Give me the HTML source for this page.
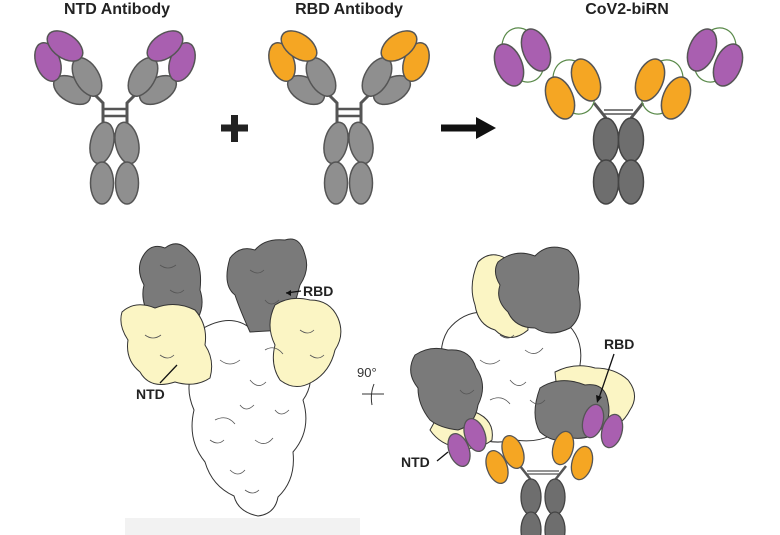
<!DOCTYPE html>
<html><head><meta charset="utf-8"><style>
html,body{margin:0;padding:0;background:#fff;}
svg{display:block;font-family:"Liberation Sans",Arial,sans-serif;}
</style></head><body>
<svg width="780" height="535" viewBox="0 0 780 535" xmlns="http://www.w3.org/2000/svg">
<defs>
<g id="ab">
  <path d="M-20,0 L-12,8 L-12,30 M20,0 L12,8 L12,30" fill="none" stroke="#555" stroke-width="3"/>
  <path d="M-12,14 H12 M-12,21 H12" stroke="#555" stroke-width="2.5"/>
  <g stroke="#555" stroke-width="1.5" fill="#8f8f8f">
    <ellipse cx="-13" cy="48" rx="11.5" ry="21" transform="rotate(12 -13 48)"/>
    <ellipse cx="12" cy="48" rx="11.5" ry="21" transform="rotate(-12 12 48)"/>
    <ellipse cx="-13" cy="88" rx="11.5" ry="21"/>
    <ellipse cx="12" cy="88" rx="11.5" ry="21"/>
    <ellipse cx="-43" cy="-5" rx="12" ry="20" transform="rotate(-60 -43 -5)"/>
    <ellipse cx="-28" cy="-18" rx="12" ry="21" transform="rotate(-30 -28 -18)"/>
    <ellipse cx="43" cy="-5" rx="12" ry="20" transform="rotate(60 43 -5)"/>
    <ellipse cx="28" cy="-18" rx="12" ry="21" transform="rotate(30 28 -18)"/>
  </g>
</g>
</defs>

<g font-weight="bold" font-size="16" fill="#222" text-anchor="middle">
<text x="117" y="14">NTD Antibody</text>
<text x="349" y="14">RBD Antibody</text>
<text x="627" y="14">CoV2-biRN</text>
</g>

<g transform="translate(115,95)">
  <use href="#ab"/>
  <g stroke="#555" stroke-width="1.5" fill="#a95fb0">
    <ellipse cx="-67" cy="-33" rx="12" ry="20" transform="rotate(-20 -67 -33)"/>
    <ellipse cx="-50" cy="-49" rx="12" ry="20" transform="rotate(-55 -50 -49)"/>
    <ellipse cx="67" cy="-33" rx="12" ry="20" transform="rotate(20 67 -33)"/>
    <ellipse cx="50" cy="-49" rx="12" ry="20" transform="rotate(55 50 -49)"/>
  </g>
</g>
<g transform="translate(349,95)">
  <use href="#ab"/>
  <g stroke="#555" stroke-width="1.5" fill="#f5a623">
    <ellipse cx="-67" cy="-33" rx="12" ry="20" transform="rotate(-20 -67 -33)"/>
    <ellipse cx="-50" cy="-49" rx="12" ry="20" transform="rotate(-55 -50 -49)"/>
    <ellipse cx="67" cy="-33" rx="12" ry="20" transform="rotate(20 67 -33)"/>
    <ellipse cx="50" cy="-49" rx="12" ry="20" transform="rotate(55 50 -49)"/>
  </g>
</g>

<path d="M221,128 H248 M234.5,115 V142" stroke="#222" stroke-width="7"/>
<path d="M441,128 H478" stroke="#111" stroke-width="7"/>
<path d="M476,117 L496,128 L476,139 Z" fill="#111"/>

<!-- CoV2-biRN -->
<g>
  <path d="M606,118 L594,103 M631,118 L643,103" stroke="#555" stroke-width="3"/>
  <path d="M604,110 H633 M604,114 H633" stroke="#555" stroke-width="1.5"/>
  <g fill="none" stroke="#5a8a4a" stroke-width="1.2">
    <ellipse cx="574" cy="87" rx="20" ry="28" transform="rotate(-22 574 87)"/>
    <ellipse cx="523" cy="55" rx="20" ry="28" transform="rotate(-22 523 55)"/>
    <ellipse cx="662" cy="87" rx="20" ry="28" transform="rotate(22 662 87)"/>
    <ellipse cx="715" cy="55" rx="20" ry="28" transform="rotate(22 715 55)"/>
  </g>
  <g stroke="#444" stroke-width="1.5" fill="#6e6e6e">
    <ellipse cx="606" cy="140" rx="12.5" ry="22"/>
    <ellipse cx="631" cy="140" rx="12.5" ry="22"/>
    <ellipse cx="606" cy="182" rx="12.5" ry="22"/>
    <ellipse cx="631" cy="182" rx="12.5" ry="22"/>
  </g>
  <g stroke="#555" stroke-width="1.5" fill="#f5a623">
    <ellipse cx="586" cy="80" rx="13" ry="22" transform="rotate(-22 586 80)"/>
    <ellipse cx="560" cy="98" rx="13" ry="22" transform="rotate(-22 560 98)"/>
    <ellipse cx="650" cy="80" rx="13" ry="22" transform="rotate(22 650 80)"/>
    <ellipse cx="676" cy="98" rx="13" ry="22" transform="rotate(22 676 98)"/>
  </g>
  <g stroke="#555" stroke-width="1.5" fill="#a95fb0">
    <ellipse cx="536" cy="50" rx="13" ry="22" transform="rotate(-22 536 50)"/>
    <ellipse cx="509" cy="65" rx="13" ry="22" transform="rotate(-22 509 65)"/>
    <ellipse cx="702" cy="50" rx="13" ry="22" transform="rotate(22 702 50)"/>
    <ellipse cx="728" cy="65" rx="13" ry="22" transform="rotate(22 728 65)"/>
  </g>
</g>

<!-- bottom-left spike side view -->
<rect x="125" y="518" width="235" height="17" fill="#f2f2f2"/>
<g stroke="#333" stroke-width="1" stroke-linejoin="round">
  <path d="M200,330 Q230,312 250,328 Q285,315 305,340 Q318,380 303,400 Q312,430 293,452 Q296,480 278,497 Q275,514 258,516 Q238,512 234,496 Q212,486 205,462 Q187,440 194,410 Q183,385 196,365 Q190,345 200,330 Z" fill="#fff"/>
  <path d="M142,258 Q150,242 165,248 Q178,238 190,252 Q203,262 200,290 Q205,305 198,318 L150,318 Q140,300 144,285 Q136,270 142,258 Z" fill="#7a7a7a"/>
  <path d="M122,312 Q135,300 155,308 Q175,300 195,310 Q208,325 205,345 Q215,360 210,378 Q195,388 175,382 Q150,390 140,372 Q125,360 128,340 Q118,325 122,312 Z" fill="#fbf5c4"/>
  <path d="M230,258 Q240,245 255,250 Q265,238 285,240 Q300,235 305,255 Q310,270 300,285 Q295,305 285,330 L250,332 Q240,310 235,295 Q222,285 230,258 Z" fill="#7a7a7a"/>
  <path d="M275,305 Q290,295 310,300 Q330,300 338,318 Q345,335 335,350 Q330,372 312,382 Q295,392 280,380 Q270,365 275,345 Q265,325 275,305 Z" fill="#fbf5c4"/>
</g>
<g stroke="#555" stroke-width="0.8" fill="none">
  <path d="M220,360 q10,8 20,0 M250,380 q8,10 16,2 M215,420 q12,-6 20,4 M255,440 q10,8 18,-2 M230,470 q8,8 15,0 M265,350 q10,-6 18,4 M240,405 q6,8 14,0 M210,440 q8,6 14,0 M275,410 q6,8 14,0 M245,490 q8,6 14,0"/>
  <path d="M160,265 q8,6 16,0 M250,270 q8,6 14,0 M145,335 q8,6 16,0 M300,330 q8,6 14,0 M170,290 q8,6 14,0 M265,300 q6,8 14,0 M160,355 q8,6 14,0 M310,355 q8,6 14,0"/>
</g>
<g font-weight="bold" font-size="14" fill="#222">
<text x="303" y="296">RBD</text>
<text x="136" y="399">NTD</text>
</g>
<path d="M301,291 L286,293" stroke="#111" stroke-width="1.3"/>
<path d="M286,293 l5,-3 v6 z" fill="#111"/>
<path d="M160,383 L177,365" stroke="#111" stroke-width="1.3"/>

<text x="357" y="377" font-size="13" fill="#333">90°</text>
<path d="M362,394 H384 M374,384 Q370,394 372,405" stroke="#333" stroke-width="1" fill="none"/>

<!-- bottom-right top view -->
<g stroke="#333" stroke-width="1" stroke-linejoin="round">
  <path d="M448,330 Q468,305 500,315 Q530,300 560,318 Q585,335 580,365 Q590,395 570,420 Q550,445 515,440 Q480,448 460,425 Q440,400 446,370 Q436,350 448,330 Z" fill="#fff"/>
  <path d="M478,262 Q490,250 505,258 Q518,255 525,270 L528,330 Q510,345 495,330 Q478,325 475,305 Q468,285 478,262 Z" fill="#fbf5c4"/>
  <path d="M498,262 Q515,248 535,256 Q548,242 568,250 Q582,262 578,290 Q585,315 570,328 Q550,338 535,328 Q515,328 508,312 Q495,300 500,285 Q492,272 498,262 Z" fill="#7a7a7a"/>
  <path d="M440,412 Q455,405 475,412 Q495,420 492,440 Q480,450 460,448 Q440,445 430,430 Z" fill="#fbf5c4"/>
  <path d="M415,355 Q430,345 448,350 Q470,348 476,368 Q488,385 478,405 Q475,425 458,430 Q440,428 430,420 Q418,405 418,388 Q405,372 415,355 Z" fill="#7a7a7a"/>
  <path d="M555,372 Q575,362 595,368 Q615,368 628,380 Q640,395 630,410 Q620,430 600,428 L560,420 Z" fill="#fbf5c4"/>
  <path d="M540,388 Q560,375 585,385 Q605,382 608,402 Q612,420 600,430 Q590,440 572,438 Q555,445 540,432 Q530,415 540,388 Z" fill="#7a7a7a"/>
</g>
<g stroke="#555" stroke-width="0.8" fill="none">
  <path d="M480,360 q10,8 20,0 M510,380 q8,10 16,2 M490,400 q12,-6 20,4 M525,350 q10,8 18,-2 M530,400 q8,8 15,0 M500,335 q8,6 14,0 M460,390 q6,8 14,0"/>
</g>
<g>
  <path d="M531,480 L520,466 M555,480 L566,466" stroke="#555" stroke-width="2.5"/>
  <path d="M527,471 H559 M527,474 H559" stroke="#555" stroke-width="1.2"/>
  <g stroke="#444" stroke-width="1.3" fill="#6e6e6e">
    <ellipse cx="531" cy="497" rx="10" ry="18"/>
    <ellipse cx="555" cy="497" rx="10" ry="18"/>
    <ellipse cx="531" cy="530" rx="10" ry="18"/>
    <ellipse cx="555" cy="530" rx="10" ry="18"/>
  </g>
  <g stroke="#555" stroke-width="1.3" fill="#f5a623">
    <ellipse cx="513" cy="452" rx="10" ry="17" transform="rotate(-20 513 452)"/>
    <ellipse cx="497" cy="467" rx="10" ry="17" transform="rotate(-20 497 467)"/>
    <ellipse cx="563" cy="448" rx="10" ry="17" transform="rotate(15 563 448)"/>
    <ellipse cx="582" cy="463" rx="10" ry="17" transform="rotate(15 582 463)"/>
  </g>
  <g stroke="#555" stroke-width="1.3" fill="#a95fb0">
    <ellipse cx="475" cy="435" rx="10" ry="17" transform="rotate(-20 475 435)"/>
    <ellipse cx="459" cy="450" rx="10" ry="17" transform="rotate(-20 459 450)"/>
    <ellipse cx="593" cy="421" rx="10" ry="17" transform="rotate(15 593 421)"/>
    <ellipse cx="612" cy="431" rx="10" ry="17" transform="rotate(15 612 431)"/>
  </g>
</g>
<g font-weight="bold" font-size="14" fill="#222">
<text x="604" y="349">RBD</text>
<text x="401" y="467">NTD</text>
</g>
<path d="M614,354 L599,398" stroke="#111" stroke-width="1.3"/>
<path d="M597,403 l-1,-8 l6,2 z" fill="#111"/>
<path d="M437,461 L448,452" stroke="#111" stroke-width="1.3"/>
</svg>
</body></html>
